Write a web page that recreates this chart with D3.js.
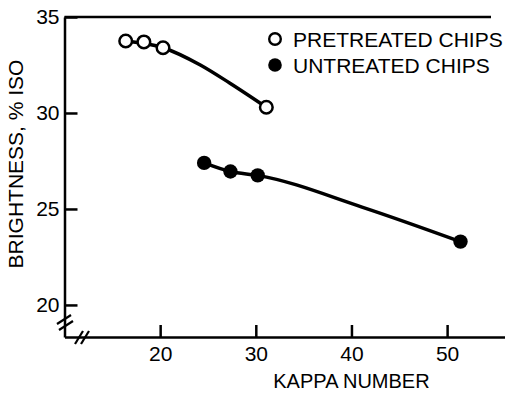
<!DOCTYPE html>
<html>
<head>
<meta charset="utf-8">
<script src="https://cdn.jsdelivr.net/npm/d3@7"></script>
<style>
  html, body { margin: 0; padding: 0; background: #fff; }
  svg text { font-family: "Liberation Sans", Arial, sans-serif; fill: #000; }
</style>
</head>
<body>
<svg id="chart"></svg>
<script>
'use strict';

var pretreatedKappa = [16.4, 18.3, 20.3, 31.1];
var pretreatedBrightness = [33.75, 33.7, 33.4, 30.3];
var untreatedKappa = [24.6, 27.35, 30.2, 51.4];
var untreatedBrightness = [27.4, 26.95, 26.75, 23.3];

// hand-drawn fit curves
var pretreatedFitKappa = [16.4, 20.3, 24.2, 27.3, 31.1];
var pretreatedFitBrightness = [33.75, 33.4, 32.5, 31.55, 30.3];
var untreatedFitKappa = [24.6, 27.35, 30.2, 41.1, 51.4];
var untreatedFitBrightness = [27.4, 26.95, 26.75, 25.1, 23.3];

var xTicks = [20, 30, 40, 50];
var yTicks = [20, 25, 30, 35];
var legendLabels = ['PRETREATED CHIPS', 'UNTREATED CHIPS'];

var width = 505, height = 394;

var svg = d3.select('#chart')
	.attr('width', width)
	.attr('height', height);

// scales
var xScale = d3.scaleLinear()
	.domain([10, 56])
	.range([64.5, 504.5]);
var yScale = d3.scaleLinear()
	.domain([18.33, 35])
	.range([337, 17]);

// axes, ticks pointing inward
var xAxis = d3.axisBottom(xScale)
	.tickValues(xTicks)
	.tickSizeInner(-12)
	.tickSizeOuter(0)
	.tickPadding(9);
var yAxis = d3.axisLeft(yScale)
	.tickValues(yTicks)
	.tickSizeInner(-13)
	.tickSizeOuter(0)
	.tickPadding(5);

var gx = svg.append('g')
	.attr('transform', 'translate(0,' + yScale.range()[0] + ')')
	.call(xAxis);
var gy = svg.append('g')
	.attr('transform', 'translate(' + xScale.range()[0] + ',0)')
	.call(yAxis);

[gx, gy].forEach(function(g) {
	g.select('.domain').attr('stroke', '#000').attr('stroke-width', 2.5);
	g.selectAll('.tick line').attr('stroke', '#000').attr('stroke-width', 2.5);
	g.selectAll('.tick text')
		.attr('fill', '#000')
		.style('font-size', '21px')
		.style('font-family', '"Liberation Sans", Arial, sans-serif');
});

// top frame line
svg.append('line')
	.attr('x1', xScale.range()[0]).attr('x2', 491)
	.attr('y1', yScale(35)).attr('y2', yScale(35))
	.attr('stroke', '#000').attr('stroke-width', 2.5);

// axis break marks
var breaks = svg.append('g').attr('stroke', '#000').attr('stroke-width', 2.2);
[[0, 0], [2, 6]].forEach(function(o) {
	breaks.append('line')
		.attr('x1', 57 + o[0]).attr('y1', 324 + o[1])
		.attr('x2', 71 + o[0]).attr('y2', 315 + o[1]);
});
[0, 6].forEach(function(o) {
	breaks.append('line')
		.attr('x1', 75 + o).attr('y1', 344)
		.attr('x2', 83 + o).attr('y2', 331);
});

// axis titles
svg.append('text')
	.attr('x', xScale(40))
	.attr('y', 388)
	.attr('text-anchor', 'middle')
	.style('font-size', '20px')
	.text('KAPPA NUMBER');
svg.append('text')
	.attr('transform', 'translate(23,164) rotate(-90)')
	.attr('text-anchor', 'middle')
	.style('font-size', '21px')
	.text('BRIGHTNESS, % ISO');

// fit curves
var line = d3.line()
	.x(function(d) { return xScale(d[0]); })
	.y(function(d) { return yScale(d[1]); })
	.curve(d3.curveMonotoneX);

var fits = [
	d3.zip(pretreatedFitKappa, pretreatedFitBrightness),
	d3.zip(untreatedFitKappa, untreatedFitBrightness)
];
svg.append('g').selectAll('path').data(fits)
	.enter().append('path')
	.attr('d', line)
	.attr('fill', 'none')
	.attr('stroke', '#000')
	.attr('stroke-width', 3.5);

// data points
svg.append('g').selectAll('circle')
	.data(d3.zip(pretreatedKappa, pretreatedBrightness))
	.enter().append('circle')
	.attr('cx', function(d) { return xScale(d[0]); })
	.attr('cy', function(d) { return yScale(d[1]); })
	.attr('r', 6.3)
	.attr('fill', '#fff')
	.attr('stroke', '#000')
	.attr('stroke-width', 2.5);
svg.append('g').selectAll('circle')
	.data(d3.zip(untreatedKappa, untreatedBrightness))
	.enter().append('circle')
	.attr('cx', function(d) { return xScale(d[0]); })
	.attr('cy', function(d) { return yScale(d[1]); })
	.attr('r', 7.2)
	.attr('fill', '#000');

// legend
var legend = svg.append('g').selectAll('g').data(legendLabels)
	.enter().append('g')
	.attr('transform', function(d, i) { return 'translate(275,' + (39 + i * 26) + ')'; });
legend.append('circle')
	.attr('r', function(d, i) { return i === 0 ? 5.8 : 6.8; })
	.attr('fill', function(d, i) { return i === 0 ? '#fff' : '#000'; })
	.attr('stroke', '#000')
	.attr('stroke-width', function(d, i) { return i === 0 ? 2.4 : 0; });
legend.append('text')
	.attr('x', 18)
	.attr('dy', '0.36em')
	.style('font-size', '21px')
	.text(function(d) { return d; });
</script>
</body>
</html>
